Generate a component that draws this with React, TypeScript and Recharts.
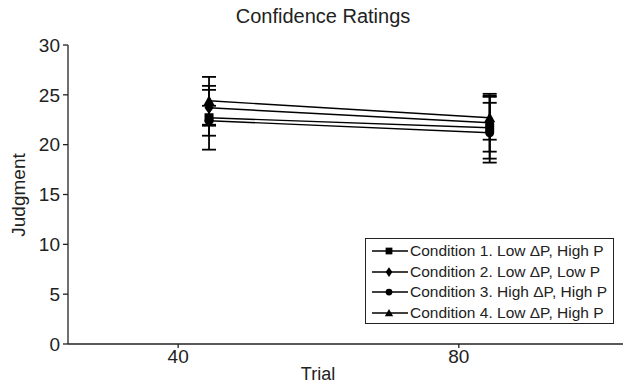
import React from 'react';
import { LineChart, Line, XAxis, YAxis, ErrorBar } from 'recharts';

const trials = [44.4, 84.4];
const xTicks = [40, 80];
const yTicks = [0, 5, 10, 15, 20, 25, 30];

const cond1 = [22.7, 21.7];
const cond1Err = [3.2, 3.1];
const cond2 = [23.7, 22.2];
const cond2Err = [1.8, 2.9];
const cond3 = [22.4, 21.2];
const cond3Err = [1.5, 3.0];
const cond4 = [24.4, 22.7];
const cond4Err = [2.4, 2.2];

const seriesNames = [
  'Condition 1. Low \u0394P, High P',
  'Condition 2. Low \u0394P, Low P',
  'Condition 3. High \u0394P, High P',
  'Condition 4. Low \u0394P, High P',
];

const rows = trials.map((t, i) => ({
  trial: t,
  c1: cond1[i],
  c1e: cond1Err[i],
  c2: cond2[i],
  c2e: cond2Err[i],
  c3: cond3[i],
  c3e: cond3Err[i],
  c4: cond4[i],
  c4e: cond4Err[i],
}));

const FONT = 'Liberation Sans, Arial, Helvetica, sans-serif';

type Shape = 'square' | 'diamond' | 'circle' | 'triangle';

const marker = (shape: Shape, cx: number, cy: number, s = 1, key?: string) => {
  if (shape === 'square') {
    const h = 4.5 * s;
    return <rect key={key} x={cx - h} y={cy - h} width={h * 2} height={h * 2} fill="#000" />;
  }
  if (shape === 'diamond') {
    const w = 4.5 * s;
    const h = 6.5 * s;
    return (
      <path key={key} d={`M${cx},${cy - h}L${cx + w},${cy}L${cx},${cy + h}L${cx - w},${cy}Z`} fill="#000" />
    );
  }
  if (shape === 'circle') {
    return <circle key={key} cx={cx} cy={cy} r={4.5 * s} fill="#000" />;
  }
  const r = 5.5 * s;
  return (
    <path key={key} d={`M${cx},${cy - r}L${cx + r},${cy + r * 0.8}L${cx - r},${cy + r * 0.8}Z`} fill="#000" />
  );
};

const series: { key: string; err: string; shape: Shape; name: string }[] = [
  { key: 'c1', err: 'c1e', shape: 'square', name: seriesNames[0] },
  { key: 'c2', err: 'c2e', shape: 'diamond', name: seriesNames[1] },
  { key: 'c3', err: 'c3e', shape: 'circle', name: seriesNames[2] },
  { key: 'c4', err: 'c4e', shape: 'triangle', name: seriesNames[3] },
];

const LegendBox = () => (
  <div
    style={{
      position: 'absolute',
      left: 365,
      top: 238,
      boxSizing: 'border-box',
      border: '1px solid #222',
      width: 249,
      height: 86,
      padding: '2px 0 0 0',
      background: '#fff',
      fontFamily: FONT,
      fontSize: 15.5,
      color: '#222',
    }}
  >
    {series.map((s) => (
      <div key={s.key} style={{ display: 'flex', alignItems: 'center', height: 20.5, whiteSpace: 'nowrap' }}>
        <svg width={44} height={16} style={{ flex: 'none' }}>
          <line x1={6} y1={8} x2={42} y2={8} stroke="#000" strokeWidth={1.5} />
          {marker(s.shape, 23, 8, 0.75)}
        </svg>
        <span>{s.name}</span>
      </div>
    ))}
  </div>
);

export default function App() {
  return (
    <div style={{ position: 'absolute', left: 0, top: 0, width: 623, height: 383, background: '#fff' }}>
      <div
        style={{
          position: 'absolute',
          left: 0,
          width: 646,
          top: 5,
          textAlign: 'center',
          fontFamily: FONT,
          fontSize: 20,
          color: '#222',
        }}
      >
        Confidence Ratings
      </div>
      <LineChart width={623} height={383} data={rows} margin={{ top: 45, right: 0, bottom: 0, left: 0 }}>
        <XAxis
          dataKey="trial"
          type="number"
          domain={[24.3, 103.4]}
          ticks={xTicks}
          allowDataOverflow
          height={39}
          stroke="#222"
          strokeWidth={1.3}
          tickSize={4}
          tickMargin={2}
          tick={{ fill: '#222', fontSize: 19, fontFamily: FONT }}
          label={{
            content: () => (
              <text x={318} y={380} textAnchor="middle" fill="#222" fontSize={18} fontFamily={FONT}>
                Trial
              </text>
            ),
          }}
        />
        <YAxis
          domain={[0, 30]}
          ticks={yTicks}
          width={68}
          stroke="#222"
          strokeWidth={1.3}
          tickSize={5}
          tickMargin={3}
          tick={{ fill: '#222', fontSize: 19, fontFamily: FONT }}
          label={{
            content: () => (
              <text
                x={25}
                y={195}
                transform="rotate(-90 25 195)"
                textAnchor="middle"
                fill="#222"
                fontSize={19}
                fontFamily={FONT}
              >
                Judgment
              </text>
            ),
          }}
        />
        {series.map((s) => (
          <Line
            key={s.key}
            dataKey={s.key}
            name={s.name}
            stroke="#000"
            strokeWidth={1.4}
            isAnimationActive={false}
            dot={(p: any) => marker(s.shape, p.cx, p.cy, 1, `${s.key}-${p.index}`)}
            activeDot={false}
          >
            <ErrorBar dataKey={s.err} direction="y" width={7} stroke="#000" strokeWidth={1.8} />
          </Line>
        ))}
      </LineChart>
      <LegendBox />
    </div>
  );
}
